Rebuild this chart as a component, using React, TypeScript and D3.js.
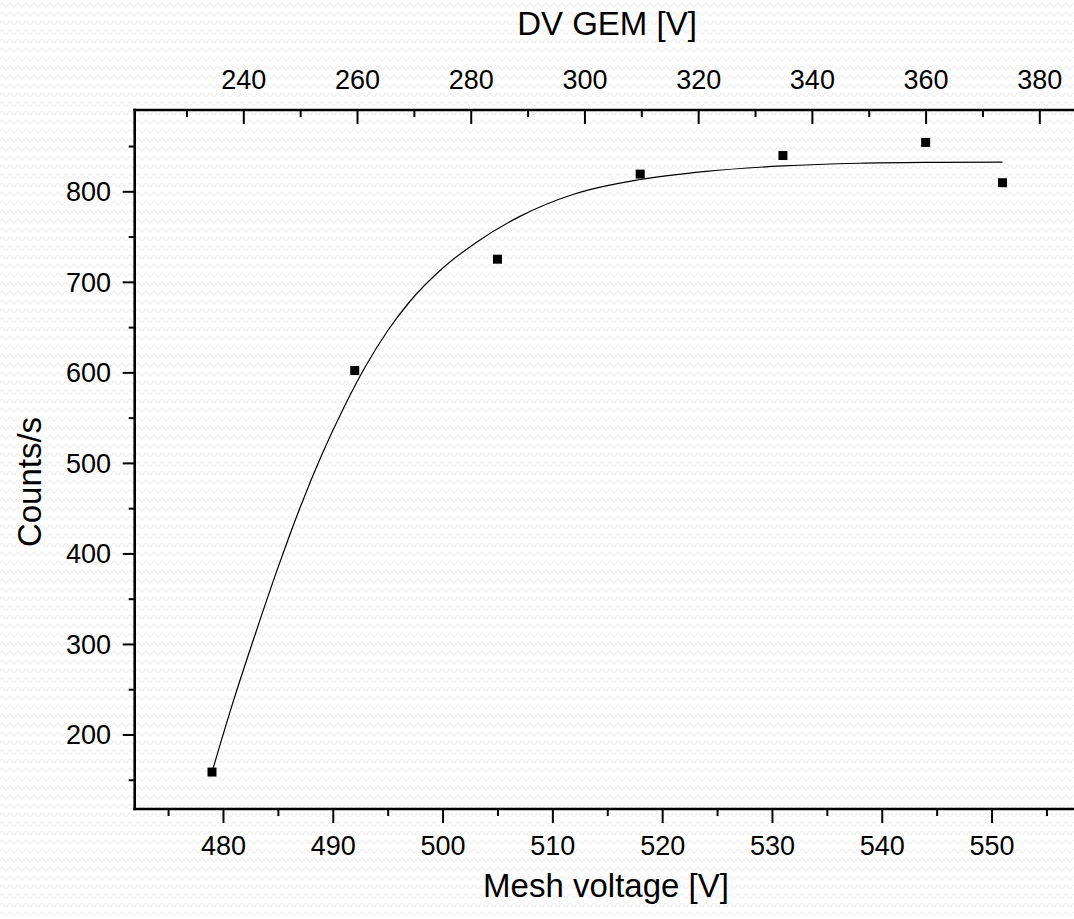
import { useEffect, useRef } from 'react';
import * as d3 from 'd3';

// measured points
const MESH_V = [479, 492, 505, 518, 531, 544, 551];
const COUNTS = [158.5, 602, 725, 819, 839.5, 854, 809.5];

// fitted curve
const FIT_MESH = [479, 481, 483, 485, 487, 489, 491, 493, 495, 497, 500, 503, 507, 512, 518, 524, 531, 538, 545, 551];
const FIT_COUNTS = [158.5, 239, 313, 384, 450, 509, 561, 607, 646, 678, 715, 743, 772, 797, 813, 822, 828, 831, 832, 832.3];

const BOTTOM_TICKS = [480, 490, 500, 510, 520, 530, 540, 550];
const BOTTOM_MINOR = [475, 485, 495, 505, 515, 525, 535, 545, 555];
const TOP_TICKS = [240, 260, 280, 300, 320, 340, 360, 380];
const TOP_MINOR = [230, 250, 270, 290, 310, 330, 350, 370];
const LEFT_TICKS = [200, 300, 400, 500, 600, 700, 800];
const LEFT_MINOR = [150, 250, 350, 450, 550, 650, 750, 850];

const WIDTH = 1074;
const HEIGHT = 919;
const FONT = '"Liberation Sans", Arial, sans-serif';

export default function App() {
  const svgRef = useRef<SVGSVGElement>(null);

  useEffect(() => {
    if (!svgRef.current) return;
    const svg = d3.select(svgRef.current);
    svg.selectAll('*').remove();

    const left = 134.7;
    const right = 1074;
    const top = 110;
    const bottom = 809;

    const x = d3.scaleLinear().domain([471.96, 557.51]).range([left, right]);
    const xTop = d3.scaleLinear().domain([220.9, 386.1]).range([left, right]);
    const y = d3.scaleLinear().domain([117.7, 889.8]).range([bottom, top]);

    // faint wavy paper background
    const defs = svg.append('defs');
    const pat = defs.append('pattern')
      .attr('id', 'bg-wave')
      .attr('width', 8)
      .attr('height', 9)
      .attr('patternUnits', 'userSpaceOnUse');
    pat.append('rect').attr('width', 8).attr('height', 9).attr('fill', '#ffffff');
    pat.append('path')
      .attr('d', 'M0,5 Q2,1.5 4,5 T8,5')
      .attr('fill', 'none')
      .attr('stroke', '#efefef')
      .attr('stroke-width', 1.2);
    svg.append('rect').attr('width', WIDTH).attr('height', HEIGHT).attr('fill', 'url(#bg-wave)');

    const styleAxis = (g: d3.Selection<SVGGElement, unknown, null, undefined>) => {
      g.select('.domain').remove();
      g.selectAll('line').attr('stroke', '#000').attr('stroke-width', 2);
      g.selectAll('text')
        .attr('fill', '#000')
        .attr('font-family', FONT)
        .attr('font-size', 27);
    };

    // bottom axis
    const gb = svg.append('g').attr('transform', `translate(0,${bottom})`)
      .call(d3.axisBottom(x).tickValues(BOTTOM_TICKS).tickSize(14).tickFormat(d3.format('d')));
    styleAxis(gb);
    gb.selectAll('text').attr('y', 46).attr('dy', null);
    const gbm = svg.append('g').attr('transform', `translate(0,${bottom})`)
      .call(d3.axisBottom(x).tickValues(BOTTOM_MINOR).tickSize(7).tickFormat(() => ''));
    styleAxis(gbm);

    // top axis, ticks pointing in
    const gt = svg.append('g').attr('transform', `translate(0,${top})`)
      .call(d3.axisTop(xTop).tickValues(TOP_TICKS).tickSize(-14).tickFormat(d3.format('d')));
    styleAxis(gt);
    gt.selectAll('text').attr('y', -21).attr('dy', null);
    const gtm = svg.append('g').attr('transform', `translate(0,${top})`)
      .call(d3.axisTop(xTop).tickValues(TOP_MINOR).tickSize(-7).tickFormat(() => ''));
    styleAxis(gtm);

    // left axis
    const gl = svg.append('g').attr('transform', `translate(${left},0)`)
      .call(d3.axisLeft(y).tickValues(LEFT_TICKS).tickSize(12).tickFormat(d3.format('d')));
    styleAxis(gl);
    gl.selectAll('text').attr('x', -23.7).attr('dy', '0.35em');
    const glm = svg.append('g').attr('transform', `translate(${left},0)`)
      .call(d3.axisLeft(y).tickValues(LEFT_MINOR).tickSize(6).tickFormat(() => ''));
    styleAxis(glm);

    // frame lines
    const frame = svg.append('g').attr('stroke', '#000').attr('stroke-width', 2.6).attr('stroke-linecap', 'square');
    frame.append('line').attr('x1', left).attr('x2', left).attr('y1', top).attr('y2', bottom);
    frame.append('line').attr('x1', left).attr('x2', right + 5).attr('y1', top).attr('y2', top);
    frame.append('line').attr('x1', left).attr('x2', right + 5).attr('y1', bottom).attr('y2', bottom);

    // fit curve
    const fit = FIT_MESH.map((m, i) => [m, FIT_COUNTS[i]] as [number, number]);
    const line = d3.line<[number, number]>()
      .x(d => x(d[0]))
      .y(d => y(d[1]))
      .curve(d3.curveMonotoneX);
    svg.append('path')
      .datum(fit)
      .attr('d', line)
      .attr('fill', 'none')
      .attr('stroke', '#000')
      .attr('stroke-width', 1.2);

    // data squares
    const sq = 9;
    svg.append('g')
      .selectAll('rect')
      .data(MESH_V)
      .enter()
      .append('rect')
      .attr('x', (d) => x(d) - sq / 2)
      .attr('y', (_, i) => y(COUNTS[i]) - sq / 2)
      .attr('width', sq)
      .attr('height', sq)
      .attr('fill', '#000');

    // titles
    const title = svg.append('g')
      .attr('font-family', FONT)
      .attr('font-size', 33)
      .attr('fill', '#000')
      .attr('text-anchor', 'middle');
    title.append('text').attr('x', 606).attr('y', 897).text('Mesh voltage [V]');
    title.append('text').attr('x', 607).attr('y', 35).text('DV GEM [V]');
    title.append('text')
      .attr('transform', `translate(41,482) rotate(-90)`)
      .text('Counts/s');
  }, []);

  return (
    <svg
      ref={svgRef}
      width={WIDTH}
      height={HEIGHT}
      style={{ position: 'absolute', left: 0, top: 0, display: 'block' }}
    ></svg>
  );
}
